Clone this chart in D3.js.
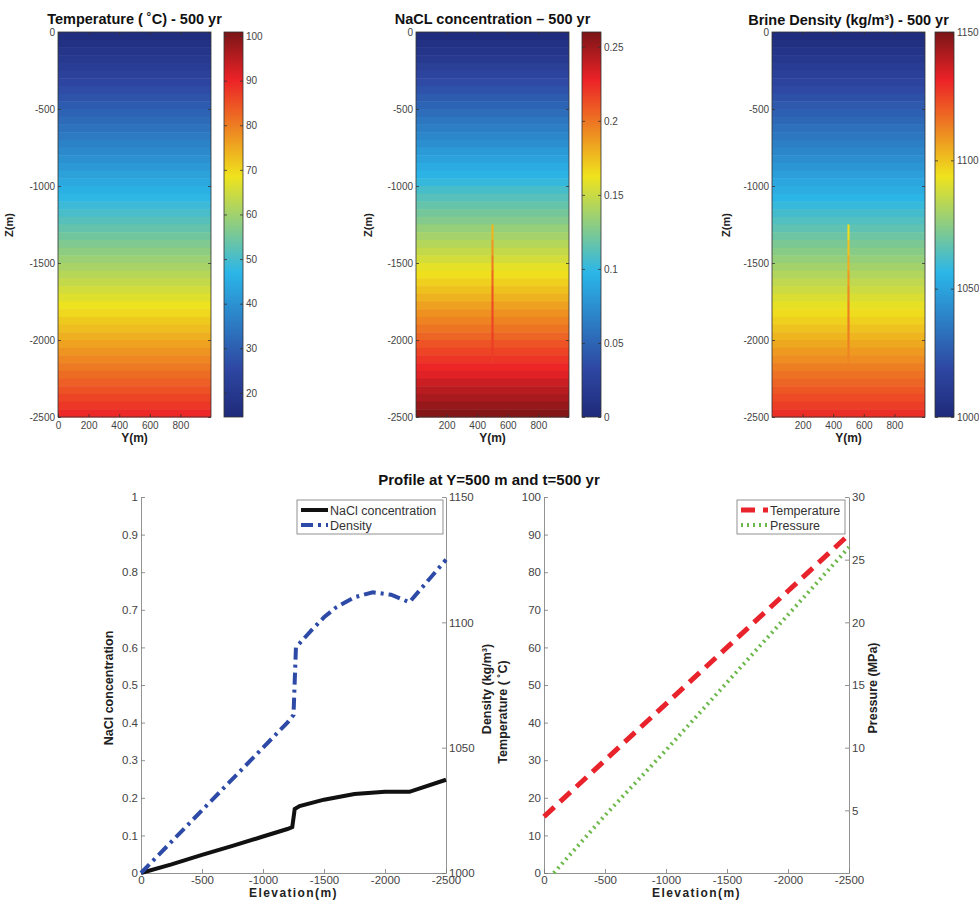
<!DOCTYPE html>
<html>
<head>
<meta charset="utf-8">
<script src="https://cdn.jsdelivr.net/npm/d3@7"></script>
<style>
body { margin: 0; background: #fff; }
text { font-family: "Liberation Sans", Arial, sans-serif; }
</style>
</head>
<body>
<svg id="chart" width="979" height="903"></svg>
<script>
// ---- data ----
// 50 m band centres for the 2D fields (uniform along Y)
var bandDepth = [-25, -75, -125, -175, -225, -275, -325, -375, -425, -475,
                 -525, -575, -625, -675, -725, -775, -825, -875, -925, -975,
                 -1025, -1075, -1125, -1175, -1225, -1275, -1325, -1375, -1425, -1475,
                 -1525, -1575, -1625, -1675, -1725, -1775, -1825, -1875, -1925, -1975,
                 -2025, -2075, -2125, -2175, -2225, -2275, -2325, -2375, -2425, -2475];
var tempBands = [15.8, 17.3, 18.8, 20.3, 21.8, 23.3, 24.8, 26.3, 27.8, 29.3,
                 30.8, 32.3, 33.8, 35.3, 36.8, 38.3, 39.8, 41.3, 42.8, 44.3,
                 45.8, 47.3, 48.8, 50.3, 51.8, 53.3, 54.8, 56.3, 57.8, 59.3,
                 60.8, 62.3, 63.8, 65.3, 66.8, 68.3, 69.8, 71.3, 72.8, 74.3,
                 75.8, 77.3, 78.8, 80.3, 81.8, 83.3, 84.8, 86.3, 87.8, 89.3];
var naclBands = [0.003, 0.008, 0.013, 0.018, 0.023, 0.029, 0.034, 0.039, 0.044, 0.049,
                 0.055, 0.060, 0.065, 0.070, 0.075, 0.081, 0.086, 0.091, 0.096, 0.101,
                 0.107, 0.112, 0.117, 0.122, 0.127, 0.133, 0.138, 0.143, 0.148, 0.153,
                 0.159, 0.164, 0.169, 0.174, 0.179, 0.185, 0.190, 0.195, 0.200, 0.205,
                 0.211, 0.216, 0.221, 0.226, 0.231, 0.237, 0.242, 0.247, 0.252, 0.257];
var densBands = [1001.3, 1003.9, 1006.5, 1009.1, 1011.7, 1014.3, 1016.9, 1019.5, 1022.1, 1024.7,
                 1027.3, 1029.9, 1032.5, 1035.1, 1037.7, 1040.3, 1042.9, 1045.5, 1048.1, 1050.7,
                 1053.3, 1055.9, 1058.5, 1061.1, 1063.7, 1066.3, 1068.9, 1071.5, 1074.1, 1076.7,
                 1079.3, 1081.9, 1084.5, 1087.1, 1089.7, 1092.3, 1094.9, 1097.5, 1100.1, 1102.7,
                 1105.3, 1107.9, 1110.5, 1113.1, 1115.7, 1118.3, 1120.9, 1123.5, 1126.1, 1128.7];
var bandHalf = 25;
// thin well trace at Y = 500 m
var wellDepth = [-1300, -1400, -1500, -1600, -1700, -1800, -1900, -2000, -2100];
var wellNacl = [0.178, 0.188, 0.197, 0.204, 0.210, 0.214, 0.216, 0.218, 0.219];
var wellDens = [1095, 1100, 1104, 1108, 1111, 1113, 1114, 1113, 1112];

var tempTicks = [20, 30, 40, 50, 60, 70, 80, 90, 100];
var naclTicks = [0, 0.05, 0.1, 0.15, 0.2, 0.25];
var densTicks = [1000, 1050, 1100, 1150];
var zTicks = [0, -500, -1000, -1500, -2000, -2500];

// profile at Y = 500 m
var naclElev = [0, -250, -500, -750, -1000, -1200, -1240, -1260, -1300, -1500, -1750, -2000, -2200, -2500];
var naclProf = [0, 0.023, 0.048, 0.072, 0.097, 0.117, 0.122, 0.170, 0.178, 0.195, 0.210, 0.216, 0.216, 0.248];
var densElev = [0, -500, -1000, -1200, -1250, -1270, -1400, -1500, -1600, -1750, -1900, -2050, -2200, -2500];
var densProf = [1000, 1025, 1050, 1060, 1063, 1090, 1097, 1102, 1106, 1110, 1112, 1111, 1108, 1125];
var tempElev = [0, -500, -1000, -1500, -2000, -2500];
var tempProf = [15, 30, 45, 60, 75, 90];
var presElev = [-80, -500, -1000, -1500, -2000, -2500];
var presProf = [0, 4.6, 9.8, 15.2, 20.6, 26.0];
var elevTicks = [0, -500, -1000, -1500, -2000, -2500];

// jet-like colormap (muted like the print)
var jetStops = [0, 0.125, 0.375, 0.625, 0.875, 1];
var jetColors = ["#1f2a7a", "#2e47a2", "#2bb6e8", "#efe31d", "#ec2227", "#7a1517"];

var svg = d3.select("#chart");
var defs = svg.append("defs");
var fmtInt = function(d) { return String(d); };
var fmtDec = function(d) { return String(+d.toFixed(2)); };

var hmTop = 32, hmBot = 417, pw = 153, cbw = 19;
var zScale = d3.scaleLinear().domain([0, -2500]).range([hmTop, hmBot]);

var panels = [
  { title: "Temperature ( \u02daC) - 500 yr", bands: tempBands, dom: [14.6, 100.9], ticks: tempTicks,
    fmt: fmtInt, x0: 58, cbx: 224, xt: [0, 200, 400, 600, 800], zx: 13, ty: 24 },
  { title: "NaCL concentration \u2013 500 yr", bands: naclBands, dom: [0, 0.26], ticks: naclTicks,
    fmt: fmtDec, x0: 416, cbx: 582, xt: [200, 400, 600, 800], zx: 372, ty: 24, well: wellNacl },
  { title: "Brine Density (kg/m\u00b3) - 500 yr", bands: densBands, dom: [1000, 1150], ticks: densTicks,
    fmt: fmtInt, x0: 772, cbx: 935, xt: [200, 400, 600, 800], zx: 730, ty: 25, well: wellDens }
];

function styleAxis(g, size) {
  g.selectAll("path").attr("stroke", "#333").attr("stroke-width", 0.8);
  g.selectAll("line").attr("stroke", "#333").attr("stroke-width", 0.8);
  g.selectAll("text").attr("fill", "#444").style("font-size", size + "px").style("font-family", "Liberation Sans, Arial, sans-serif");
}

panels.forEach(function(p, i) {
  var g = svg.append("g");
  var xs = d3.scaleLinear().domain([0, 1000]).range([p.x0, p.x0 + pw]);
  var cs = d3.scaleLinear().domain(jetStops.map(function(t) { return p.dom[0] + t * (p.dom[1] - p.dom[0]); }))
    .range(jetColors).clamp(true);

  g.selectAll("rect.band").data(p.bands).enter().append("rect")
    .attr("x", xs(0))
    .attr("width", pw)
    .attr("y", function(d, j) { return zScale(bandDepth[j] + bandHalf); })
    .attr("height", function(d, j) { return zScale(bandDepth[j] - bandHalf) - zScale(bandDepth[j] + bandHalf) + 0.5; })
    .attr("fill", function(d) { return cs(d); });

  if (p.well) {
    g.selectAll("rect.well").data(p.well).enter().append("rect")
      .attr("x", xs(493))
      .attr("width", xs(507) - xs(493))
      .attr("y", function(d, j) { return zScale(wellDepth[j] + 50); })
      .attr("height", function(d, j) { return zScale(wellDepth[j] - 50) - zScale(wellDepth[j] + 50) + 0.3; })
      .attr("fill", function(d) { return cs(d); });
  }

  g.append("rect").attr("x", p.x0).attr("y", hmTop).attr("width", pw).attr("height", hmBot - hmTop)
    .attr("fill", "none").attr("stroke", "#333").attr("stroke-width", 0.8);

  var ax = g.append("g").attr("transform", "translate(0," + hmBot + ")")
    .call(d3.axisBottom(xs).tickValues(p.xt).tickSize(-3).tickSizeOuter(0).tickPadding(5).tickFormat(fmtInt));
  styleAxis(ax, 10);
  ax.select("path").remove();
  var axt = g.append("g").attr("transform", "translate(0," + hmTop + ")")
    .call(d3.axisTop(xs).tickValues(p.xt).tickSize(-3).tickSizeOuter(0).tickFormat(""));
  styleAxis(axt, 10);
  axt.select("path").remove();
  var ay = g.append("g").attr("transform", "translate(" + p.x0 + ",0)")
    .call(d3.axisLeft(zScale).tickValues(zTicks).tickSize(-3).tickSizeOuter(0).tickPadding(3).tickFormat(fmtInt));
  styleAxis(ay, 10);
  ay.select("path").remove();
  var ayr = g.append("g").attr("transform", "translate(" + (p.x0 + pw) + ",0)")
    .call(d3.axisRight(zScale).tickValues(zTicks).tickSize(-3).tickSizeOuter(0).tickFormat(""));
  styleAxis(ayr, 10);
  ayr.select("path").remove();

  g.append("text").attr("x", p.x0 + pw / 2).attr("y", p.ty).attr("text-anchor", "middle")
    .style("font-size", "14.5px").style("font-weight", "bold").attr("fill", "#111").text(p.title);
  g.append("text").attr("x", p.x0 + pw / 2).attr("y", 442).attr("text-anchor", "middle")
    .style("font-size", "12px").style("font-weight", "bold").attr("fill", "#222").text("Y(m)");
  g.append("text").attr("transform", "translate(" + p.zx + "," + 225 + ") rotate(-90)").attr("text-anchor", "middle")
    .style("font-size", "11px").style("font-weight", "bold").attr("fill", "#222").text("Z(m)");

  // colorbar
  var gid = "grad" + i;
  var grad = defs.append("linearGradient").attr("id", gid)
    .attr("x1", "0%").attr("y1", "100%").attr("x2", "0%").attr("y2", "0%");
  jetStops.forEach(function(t, k) {
    grad.append("stop").attr("offset", (t * 100) + "%").attr("stop-color", jetColors[k]);
  });
  g.append("rect").attr("x", p.cbx).attr("y", hmTop).attr("width", cbw).attr("height", hmBot - hmTop)
    .style("fill", "url(#" + gid + ")").attr("stroke", "#333").attr("stroke-width", 0.8);
  var cbs = d3.scaleLinear().domain(p.dom).range([hmBot, hmTop]);
  var cr = g.append("g").attr("transform", "translate(" + (p.cbx + cbw) + ",0)")
    .call(d3.axisRight(cbs).tickValues(p.ticks).tickSize(-3).tickSizeOuter(0).tickPadding(3).tickFormat(p.fmt));
  styleAxis(cr, 10);
  cr.select("path").remove();
  var cl = g.append("g").attr("transform", "translate(" + p.cbx + ",0)")
    .call(d3.axisLeft(cbs).tickValues(p.ticks).tickSize(-3).tickSizeOuter(0).tickFormat(""));
  styleAxis(cl, 10);
  cl.select("path").remove();
});

// ---- bottom profiles ----
var pTop = 497, pBot = 873;
svg.append("text").attr("x", 489).attr("y", 485).attr("text-anchor", "middle")
  .style("font-size", "15px").style("font-weight", "bold").attr("fill", "#111")
  .text("Profile at Y=500 m and t=500 yr");

function pts(xa, ya) { return xa.map(function(e, k) { return { e: e, v: ya[k] }; }); }

function profile(cfg) {
  var g = svg.append("g");
  var x = d3.scaleLinear().domain([0, -2500]).range([cfg.x0, cfg.x1]);
  var yl = d3.scaleLinear().domain(cfg.ldom).range([pBot, pTop]);
  var yr = d3.scaleLinear().domain(cfg.rdom).range([pBot, pTop]);

  var axb = g.append("g").attr("transform", "translate(0," + pBot + ")")
    .call(d3.axisBottom(x).tickValues(elevTicks).tickSize(-4).tickSizeOuter(0).tickPadding(3).tickFormat(fmtInt));
  var axl = g.append("g").attr("transform", "translate(" + cfg.x0 + ",0)")
    .call(d3.axisLeft(yl).tickValues(cfg.lticks).tickSize(-4).tickSizeOuter(0).tickPadding(3).tickFormat(cfg.lfmt));
  var axr = g.append("g").attr("transform", "translate(" + cfg.x1 + ",0)")
    .call(d3.axisRight(yr).tickValues(cfg.rticks).tickSize(-4).tickSizeOuter(0).tickPadding(3).tickFormat(fmtInt));
  [axb, axl, axr].forEach(function(a) {
    styleAxis(a, 11.5);
    a.selectAll("path, line").attr("stroke", "#777");
  });

  cfg.series.forEach(function(s) {
    var yy = s.side === "l" ? yl : yr;
    g.append("path").datum(pts(s.xs, s.ys))
      .attr("fill", "none").attr("stroke", s.color).attr("stroke-width", s.w)
      .attr("stroke-dasharray", s.dash)
      .attr("d", d3.line().x(function(d) { return x(d.e); }).y(function(d) { return yy(d.v); }));
  });

  // legend
  var lg = g.append("g").attr("transform", "translate(" + cfg.lx + "," + 500 + ")");
  lg.append("rect").attr("width", cfg.lw).attr("height", 34).attr("fill", "#fff")
    .attr("stroke", "#777").attr("stroke-width", 0.8);
  cfg.series.forEach(function(s, k) {
    var yy = 10 + k * 15;
    lg.append("line").attr("x1", 4).attr("x2", 31).attr("y1", yy).attr("y2", yy)
      .attr("stroke", s.color).attr("stroke-width", s.w).attr("stroke-dasharray", s.dash);
    lg.append("text").attr("x", 33).attr("y", yy + 4.5).style("font-size", "12.5px").attr("fill", "#333").text(s.name);
  });

  g.append("text").attr("x", (cfg.x0 + cfg.x1) / 2).attr("y", 897).attr("text-anchor", "middle")
    .style("font-size", "12px").style("font-weight", "bold").style("letter-spacing", "1.4px")
    .attr("fill", "#222").text("Elevation(m)");
  cfg.labels.forEach(function(l) {
    g.append("text").attr("transform", "translate(" + l.x + "," + l.y + ") rotate(-90)").attr("text-anchor", "middle")
      .style("font-size", "12.5px").style("font-weight", "bold").attr("fill", "#222").text(l.t);
  });
}

profile({
  x0: 141, x1: 446, ldom: [0, 1], rdom: [1000, 1150],
  lticks: [0, 0.1, 0.2, 0.3, 0.4, 0.5, 0.6, 0.7, 0.8, 0.9, 1], lfmt: fmtDec, rticks: densTicks,
  lx: 297, lw: 146,
  series: [
    { name: "NaCl concentration", xs: naclElev, ys: naclProf, side: "l", color: "#111", w: 4, dash: null },
    { name: "Density", xs: densElev, ys: densProf, side: "r", color: "#2d4aa6", w: 4, dash: "12,5,3,5" }
  ],
  labels: [{ x: 113, y: 688, t: "NaCl concentration" }, { x: 491, y: 689, t: "Density (kg/m\u00b3)" }]
});

profile({
  x0: 544, x1: 849, ldom: [0, 100], rdom: [0, 30],
  lticks: [0, 10, 20, 30, 40, 50, 60, 70, 80, 90, 100], lfmt: fmtInt, rticks: [5, 10, 15, 20, 25, 30],
  lx: 737, lw: 108,
  series: [
    { name: "Temperature", xs: tempElev, ys: tempProf, side: "l", color: "#e8232b", w: 5, dash: "14,8" },
    { name: "Pressure", xs: presElev, ys: presProf, side: "r", color: "#6cb84a", w: 4, dash: "2,4" }
  ],
  labels: [{ x: 507, y: 712, t: "Temperature ( \u02daC)" }, { x: 877, y: 688, t: "Pressure (MPa)" }]
});
</script>
</body>
</html>
